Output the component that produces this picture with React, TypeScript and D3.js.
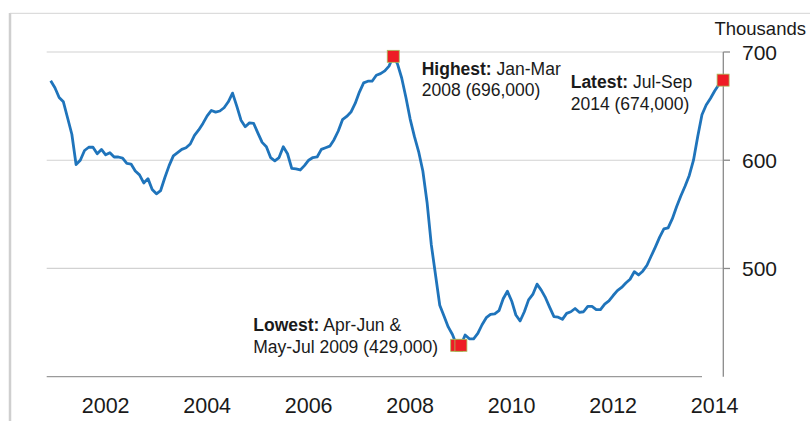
import { scaleLinear, scalePoint, line } from "d3";

// rolling three-month periods, Apr-Jun 2001 to Jul-Sep 2014 (thousands)
const months = ["Jan", "Feb", "Mar", "Apr", "May", "Jun", "Jul", "Aug", "Sep", "Oct", "Nov", "Dec"];

const values = [
	// 2001 (Apr-Jun onwards)
	673.5, 667, 658, 654, 639, 624, 596, 600, 609,
	// 2002
	612, 612, 606, 610, 605, 607, 603, 603, 602, 597, 596.5, 590,
	// 2003
	586.5, 579, 583, 573, 569, 572, 584, 595, 604, 607, 610, 611.5,
	// 2004
	615, 623, 628, 634, 641, 646, 644.5, 645.5, 648.5, 654, 662, 650,
	// 2005
	637, 631, 634.5, 634, 625, 616.5, 612.5, 602.5, 599.5, 602.5, 612.5, 606,
	// 2006
	592.5, 592, 591, 595, 600, 602.5, 603, 610, 611.5, 613, 619, 627,
	// 2007
	637.5, 640.5, 644.5, 652.5, 663, 671.5, 673, 673, 678.5, 680, 682.5, 687,
	// 2008
	696, 689, 676, 658, 638, 622, 608, 590, 561, 522, 494, 466,
	// 2009
	456, 446, 439, 429, 429, 438.5, 435, 435, 440, 448, 454.5, 457.5,
	// 2010
	458, 461, 472, 479, 470, 457, 451.5, 460, 471, 476, 485.5, 480,
	// 2011
	473, 464, 455.5, 455, 453, 458.5, 460, 463, 459.5, 460, 465, 465,
	// 2012
	462, 462, 467, 470, 475, 479.5, 482.5, 486.5, 490, 497, 494, 497.5,
	// 2013
	503, 511.5, 520, 529, 536.5, 537.5, 546, 557, 567, 576, 586, 600,
	// 2014
	622, 642, 651, 657, 664, 670, 674,
];

function periodLabel(i: number): string {
	const start = 3 + i; // months after Jan 2001
	const end = start + 2;
	return `${months[start % 12]}-${months[end % 12]} ${2001 + Math.floor(end / 12)}`;
}
const periods = values.map((_, i) => periodLabel(i));

const tickYears = [2002, 2004, 2006, 2008, 2010, 2012, 2014];
const yTicks = [500, 600, 700];

const highlights = ["Jan-Mar 2008", "Apr-Jun 2009", "May-Jul 2009", "Jul-Sep 2014"];

const width = 810;
const height = 421;
const font = "'Liberation Sans', Arial, sans-serif";
const ink = "#1a1a1a";

export default function App() {
	const x = scalePoint<string>().domain(periods).range([50.7, 723.1]);
	const y = scaleLinear().domain([400, 700]).range([376.7, 52]);

	const path = line<number>()
		.x((_, i) => x(periods[i]) ?? 0)
		.y((d) => y(d))(values);

	const axisX = 723.3;

	return (
		<svg
			width={width}
			height={height}
			style={{ position: "absolute", left: 0, top: 0, background: "#fff" }}
			fontFamily={font}
		>
			{/* frame */}
			<line x1={10} x2={10} y1={13} y2={height} stroke="#cfcfcf" strokeWidth={2.5} />
			<line x1={10} x2={width} y1={13.3} y2={13.3} stroke="#d4d4d4" strokeWidth={1} />

			{/* gridlines */}
			{yTicks.map((t) => (
				<line key={t} x1={46.7} x2={axisX} y1={y(t)} y2={y(t)} stroke="#d2d2d2" strokeWidth={1.2} />
			))}

			{/* bottom line */}
			<line x1={46.7} x2={702} y1={y(400)} y2={y(400)} stroke="#9a9a9a" strokeWidth={1.3} />

			{/* right axis */}
			<line x1={axisX} x2={axisX} y1={y(700)} y2={y(400)} stroke="#8a8a8a" strokeWidth={1.3} />
			{yTicks.map((t) => (
				<g key={t}>
					<line x1={axisX} x2={730} y1={y(t)} y2={y(t)} stroke="#8a8a8a" strokeWidth={1.3} />
					<text x={742} y={y(t) + 7.5} fontSize={21} fill={ink}>
						{t}
					</text>
				</g>
			))}
			<text x={806} y={35} fontSize={18.5} textAnchor="end" fill={ink}>
				Thousands
			</text>

			{/* x labels */}
			{tickYears.map((yr) => (
				<text
					key={yr}
					x={x(`May-Jul ${yr}`) ?? 0}
					y={413}
					fontSize={21.5}
					textAnchor="middle"
					fill={ink}
				>
					{yr}
				</text>
			))}

			{/* series */}
			<path d={path ?? ""} fill="none" stroke="#1f74bb" strokeWidth={2.8} strokeLinejoin="round" />

			{/* highlighted points */}
			{highlights.map((p) => {
				const i = periods.indexOf(p);
				const cx = x(p) ?? 0;
				const cy = y(values[i]);
				return (
					<rect
						key={p}
						x={cx - 6}
						y={cy - 6}
						width={12}
						height={12}
						fill="#ee1c25"
						stroke="#a4c05a"
						strokeWidth={0.8}
					/>
				);
			})}

			{/* annotations */}
			<g fontSize={17.5} fill={ink}>
				<text x={421.7} y={75}>
					<tspan fontWeight="bold">Highest:</tspan> Jan-Mar
				</text>
				<text x={421.7} y={96}>
					2008 (696,000)
				</text>
				<text x={570.7} y={88}>
					<tspan fontWeight="bold">Latest:</tspan> Jul-Sep
				</text>
				<text x={570.7} y={109.5}>
					2014 (674,000)
				</text>
				<text x={253.3} y={331}>
					<tspan fontWeight="bold">Lowest:</tspan> Apr-Jun &amp;
				</text>
				<text x={253.3} y={353}>
					May-Jul 2009 (429,000)
				</text>
			</g>
		</svg>
	);
}
